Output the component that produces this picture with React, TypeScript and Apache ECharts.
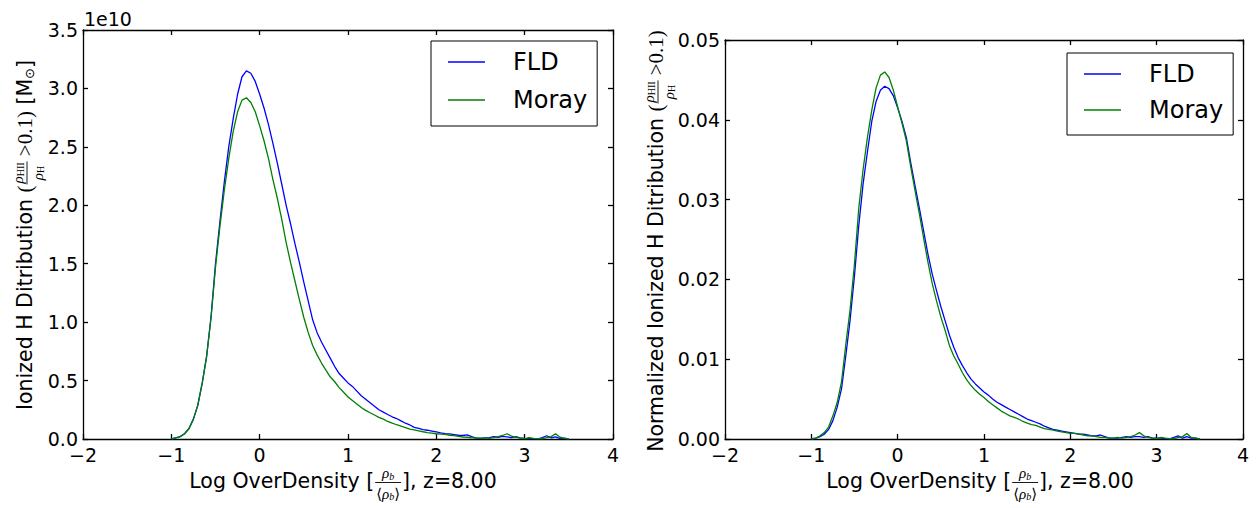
import { useEffect, useRef } from "react";
import * as echarts from "echarts";

// ---------------- data ----------------
const logOverDensity = [
  -1.0, -0.95, -0.9, -0.85, -0.8, -0.75, -0.7, -0.65, -0.6, -0.55, -0.5, -0.45, -0.4, -0.35, -0.3, -0.25, -0.2, -0.15, -0.1, -0.05,
  0.0, 0.05, 0.1, 0.15, 0.2, 0.25, 0.3, 0.35, 0.4, 0.45, 0.5, 0.55, 0.6, 0.65, 0.7, 0.75, 0.8, 0.85, 0.9, 0.95,
  1.0, 1.05, 1.1, 1.15, 1.2, 1.25, 1.3, 1.35, 1.4, 1.45, 1.5, 1.55, 1.6, 1.65, 1.7, 1.75, 1.8, 1.85, 1.9, 1.95,
  2.0, 2.05, 2.1, 2.15, 2.2, 2.25, 2.3, 2.35, 2.4, 2.45, 2.5, 2.55, 2.6, 2.65, 2.7, 2.75, 2.8, 2.85, 2.9, 2.95,
  3.0, 3.05, 3.1, 3.15, 3.2, 3.25, 3.3, 3.35, 3.4, 3.45, 3.5,
];

// Ionized H mass distribution, units of 1e10 Msun
const fldMass = [
  0.0, 0.01, 0.02, 0.045, 0.09, 0.17, 0.29, 0.48, 0.71, 1.05, 1.5, 1.86, 2.2, 2.5, 2.74, 2.95, 3.1, 3.15, 3.13, 3.06,
  2.95, 2.83, 2.69, 2.53, 2.36, 2.18, 2.0, 1.84, 1.67, 1.51, 1.34, 1.18, 1.02, 0.91, 0.83, 0.76, 0.69, 0.62, 0.56, 0.52,
  0.48, 0.45, 0.41, 0.37, 0.34, 0.31, 0.28, 0.25, 0.23, 0.21, 0.19, 0.175, 0.155, 0.135, 0.12, 0.1, 0.09, 0.08, 0.075, 0.068,
  0.06, 0.052, 0.046, 0.044, 0.038, 0.032, 0.03, 0.036, 0.02, 0.008, 0.006, 0.01, 0.012, 0.02, 0.015, 0.022, 0.018, 0.012, 0.02, 0.01,
  0.005, 0.004, 0.003, 0.002, 0.012, 0.028, 0.01, 0.018, 0.004, 0.008, 0.0,
];
const morayMass = [
  0.0, 0.01, 0.02, 0.045, 0.09, 0.17, 0.29, 0.48, 0.71, 1.04, 1.47, 1.82, 2.13, 2.4, 2.63, 2.8, 2.9, 2.92, 2.88, 2.8,
  2.68, 2.55, 2.4, 2.22, 2.06, 1.88, 1.68, 1.51, 1.35, 1.19, 1.04, 0.91, 0.8, 0.72, 0.65, 0.59, 0.53, 0.49, 0.44, 0.4,
  0.36, 0.33, 0.3, 0.27, 0.245, 0.225, 0.205, 0.185, 0.17, 0.15, 0.135, 0.122, 0.11, 0.098, 0.085, 0.078, 0.07, 0.062, 0.055, 0.05,
  0.045, 0.042, 0.04, 0.032, 0.028, 0.022, 0.017, 0.015, 0.01, 0.01, 0.008, 0.01, 0.006, 0.012, 0.02, 0.03, 0.045, 0.025, 0.015, 0.008,
  0.004, 0.012, 0.006, 0.003, 0.002, 0.012, 0.02, 0.045, 0.015, 0.005, 0.0,
];

// Normalized distribution
const fldNorm = [
  0, 0.0001, 0.0003, 0.0006, 0.0012, 0.0023, 0.004, 0.0063, 0.0105, 0.015, 0.0205, 0.0268, 0.032, 0.036, 0.0398, 0.0423, 0.0437, 0.0442, 0.0439, 0.043,
  0.0415, 0.0398, 0.0378, 0.0347, 0.0318, 0.029, 0.0261, 0.0232, 0.0207, 0.0186, 0.0166, 0.0148, 0.013, 0.0115, 0.0102, 0.0092, 0.0083, 0.0075, 0.0069, 0.0064,
  0.0059, 0.0055, 0.005, 0.0046, 0.0043, 0.004, 0.0037, 0.0034, 0.0031, 0.0028, 0.0025, 0.0023, 0.0021, 0.0019, 0.0016, 0.0014, 0.0012, 0.0011, 0.001, 0.0009,
  0.0008, 0.0007, 0.0006, 0.0006, 0.0005, 0.0004, 0.0004, 0.0005, 0.0003, 0.0001, 0.0001, 0.0001, 0.0002, 0.0003, 0.0002, 0.0003, 0.0003, 0.0002, 0.0003, 0.0001,
  0.0001, 0.0001, 0.00005, 0.00003, 0.0002, 0.0004, 0.0001, 0.0003, 0.0001, 0.0001, 0,
];
const morayNorm = [
  0, 0.0001, 0.0004, 0.0008, 0.0015, 0.0029, 0.0046, 0.0072, 0.0119, 0.0163, 0.022, 0.029, 0.0338, 0.0378, 0.0412, 0.044, 0.0456, 0.046, 0.0453, 0.0437,
  0.0416, 0.0396, 0.0374, 0.0342, 0.0312, 0.0283, 0.0252, 0.0222, 0.0195, 0.0173, 0.0153, 0.0136, 0.0117, 0.0104, 0.0094, 0.0083, 0.0074, 0.0067, 0.0061, 0.0056,
  0.0052, 0.0047, 0.0043, 0.0039, 0.0035, 0.0032, 0.0029, 0.0027, 0.0025, 0.0022, 0.002, 0.0018, 0.0017, 0.0015, 0.0013, 0.0012, 0.0011, 0.001, 0.0009, 0.0008,
  0.0007, 0.0007, 0.0006, 0.0005, 0.0004, 0.0004, 0.0003, 0.0002, 0.0002, 0.0001, 0.0001, 0.0002, 0.0001, 0.0002, 0.0003, 0.0005, 0.0008, 0.0004, 0.0002, 0.0001,
  0.00005, 0.0002, 0.0001, 0.00005, 0.00003, 0.0002, 0.0003, 0.0007, 0.0002, 0.0001, 0,
];

const seriesNames = ["FLD", "Moray"];
const seriesColors = ["#0000ff", "#008000"];

// ---------------- text helpers ----------------
const SANS = "'DejaVu Sans'";
const SERIF = "'Liberation Serif', 'DejaVu Serif'";
const sans = (s: number) => `normal ${s}px ${SANS}`;
const serif = (s: number) => `normal ${s}px ${SERIF}`;
const serifIt = (s: number) => `italic ${s}px ${SERIF}`;
const TITLE = 20.5;

let ctx: CanvasRenderingContext2D | null = null;
function measure(text: string, font: string): number {
  if (!ctx) ctx = document.createElement("canvas").getContext("2d");
  ctx!.font = font;
  return ctx!.measureText(text).width;
}

type Piece = { text: string; font: string; dy?: number };
type Item =
  | { kind: "run"; run: Piece[] }
  | { kind: "frac"; num: Piece[]; den: Piece[]; bar: number; numDy: number; denDy: number };

const runW = (run: Piece[]) => run.reduce((a, p) => a + measure(p.text, p.font), 0);

function layoutRun(run: Piece[], x0: number, yc: number, els: any[]) {
  let x = x0;
  for (const p of run) {
    els.push({
      type: "text",
      x,
      y: yc + (p.dy || 0),
      silent: true,
      style: {
        text: p.text,
        font: p.font,
        fill: "#000",
        align: "left",
        verticalAlign: "middle",
        textAlign: "left",
        textVerticalAlign: "middle",
      },
    });
    x += measure(p.text, p.font);
  }
}

function buildLabel(items: Item[]): any[] {
  const widths = items.map((it) =>
    it.kind === "run" ? runW(it.run) : Math.max(runW(it.num), runW(it.den)) + 4
  );
  const total = widths.reduce((a, b) => a + b, 0);
  let x = -total / 2;
  const els: any[] = [];
  items.forEach((it, i) => {
    const w = widths[i];
    if (it.kind === "run") {
      layoutRun(it.run, x, 0, els);
    } else {
      const nw = runW(it.num);
      const dw = runW(it.den);
      layoutRun(it.num, x + (w - nw) / 2, it.bar + it.numDy, els);
      layoutRun(it.den, x + (w - dw) / 2, it.bar + it.denDy, els);
      els.push({
        type: "line",
        silent: true,
        shape: { x1: x + 1, y1: it.bar, x2: x + w - 1, y2: it.bar },
        style: { stroke: "#000", lineWidth: 0.9 },
      });
    }
    x += w;
  });
  return els;
}

const rhoHFrac: Item = {
  kind: "frac",
  num: [
    { text: "ρ", font: serifIt(15) },
    { text: "HII", font: serif(10), dy: 3 },
  ],
  den: [
    { text: "ρ", font: serifIt(15) },
    { text: "H", font: serif(10), dy: 3 },
  ],
  bar: 2,
  numDy: -9.5,
  denDy: 10.5,
};

const xTitleItems: Item[] = [
  { kind: "run", run: [{ text: "Log OverDensity [", font: sans(TITLE) }] },
  {
    kind: "frac",
    num: [
      { text: "ρ", font: serifIt(15) },
      { text: "b", font: serifIt(10), dy: 3 },
    ],
    den: [
      { text: "⟨", font: serif(15) },
      { text: "ρ", font: serifIt(15) },
      { text: "b", font: serifIt(10), dy: 3 },
      { text: "⟩", font: serif(15) },
    ],
    bar: 1.5,
    numDy: -9.5,
    denDy: 11,
  },
  { kind: "run", run: [{ text: "], z=8.00", font: sans(TITLE) }] },
];

const yTitleLeftItems: Item[] = [
  { kind: "run", run: [{ text: "Ionized H Ditribution ", font: sans(TITLE) }, { text: "(", font: serif(21) }] },
  rhoHFrac,
  {
    kind: "run",
    run: [
      { text: "\u2009>0.1)", font: serif(21) },
      { text: " [M", font: sans(TITLE) },
      { text: "⊙", font: sans(13), dy: 4 },
      { text: "]", font: sans(TITLE) },
    ],
  },
];

const yTitleRightItems: Item[] = [
  { kind: "run", run: [{ text: "Normalized Ionized H Ditribution ", font: sans(TITLE) }, { text: "(", font: serif(21) }] },
  rhoHFrac,
  { kind: "run", run: [{ text: "\u2009>0.1)", font: serif(21) }] },
];

// ---------------- option ----------------
const fmtX = (v: number) => (v < 0 ? "\u2212" + Math.abs(v) : String(v));

function axisCommon() {
  return {
    type: "value" as const,
    axisLine: { show: true, onZero: false, lineStyle: { color: "#000", width: 1.3 } },
    axisTick: { show: true, inside: true, length: 5, lineStyle: { color: "#000", width: 1.3 } },
    splitLine: { show: false },
  };
}

function xAxes(grid: number) {
  const base = { ...axisCommon(), gridIndex: grid, min: -2, max: 4, interval: 1 };
  return [
    {
      ...base,
      position: "bottom",
      axisLabel: { formatter: fmtX, fontFamily: SANS, fontSize: 19, color: "#000", margin: 6 },
    },
    { ...base, position: "top", axisLabel: { show: false } },
  ];
}

function yAxes(grid: number, max: number, interval: number, digits: number) {
  const base = { ...axisCommon(), gridIndex: grid, min: 0, max, interval };
  return [
    {
      ...base,
      position: "left",
      axisLabel: {
        formatter: (v: number) => v.toFixed(digits),
        fontFamily: SANS,
        fontSize: 19,
        color: "#000",
        margin: 5,
      },
    },
    { ...base, position: "right", axisLabel: { show: false } },
  ];
}

function lineSeries(name: string, color: string, xi: number, yi: number, values: number[]) {
  return {
    type: "line",
    name,
    xAxisIndex: xi,
    yAxisIndex: yi,
    data: logOverDensity.map((x, i) => [x, values[i]]),
    showSymbol: false,
    symbol: "none",
    lineStyle: { color, width: 1.3 },
    itemStyle: { color },
    emphasis: { disabled: true },
  };
}

function legendAt(left: number, top: number, gap: number, padBottom: number) {
  return {
    data: seriesNames,
    left,
    top,
    orient: "vertical",
    selectedMode: false,
    backgroundColor: "#fff",
    borderColor: "#000",
    borderWidth: 1,
    borderRadius: 0,
    padding: [9, 10, padBottom, 17],
    icon: "rect",
    itemWidth: 37,
    itemHeight: 1.4,
    itemGap: gap,
    textStyle: { fontFamily: SANS, fontSize: 24, color: "#000", lineHeight: 24, padding: [0, 0, 0, 23] },
  };
}

function buildOption() {
  return {
    animation: false,
    backgroundColor: "#fff",
    grid: [
      { left: 83, top: 30, width: 530, height: 409 },
      { left: 725, top: 40, width: 518, height: 399 },
    ],
    xAxis: [...xAxes(0), ...xAxes(1)],
    yAxis: [...yAxes(0, 3.5, 0.5, 1), ...yAxes(1, 0.05, 0.01, 2)],
    legend: [legendAt(431, 41, 14, 14), legendAt(1067, 53, 12, 13)],
    series: [
      lineSeries(seriesNames[0], seriesColors[0], 0, 0, fldMass),
      lineSeries(seriesNames[1], seriesColors[1], 0, 0, morayMass),
      lineSeries(seriesNames[0], seriesColors[0], 2, 2, fldNorm),
      lineSeries(seriesNames[1], seriesColors[1], 2, 2, morayNorm),
    ],
    graphic: [
      {
        type: "text",
        x: 84,
        y: 19,
        silent: true,
        style: {
          text: "1e10",
          font: sans(19),
          fill: "#000",
          align: "left",
          verticalAlign: "middle",
          textAlign: "left",
          textVerticalAlign: "middle",
        },
      },
      { type: "group", x: 343, y: 481, children: buildLabel(xTitleItems) },
      { type: "group", x: 980, y: 481, children: buildLabel(xTitleItems) },
      { type: "group", x: 25, y: 235, rotation: Math.PI / 2, children: buildLabel(yTitleLeftItems) },
      { type: "group", x: 656, y: 241, rotation: Math.PI / 2, children: buildLabel(yTitleRightItems) },
    ],
  };
}

export default function App() {
  const ref = useRef<HTMLDivElement>(null);
  useEffect(() => {
    document.body.style.margin = "0";
    const chart = echarts.init(ref.current!, null, { renderer: "svg" });
    chart.setOption(buildOption() as any);
    return () => chart.dispose();
  }, []);
  return <div ref={ref} style={{ width: 1260, height: 508 }} />;
}
